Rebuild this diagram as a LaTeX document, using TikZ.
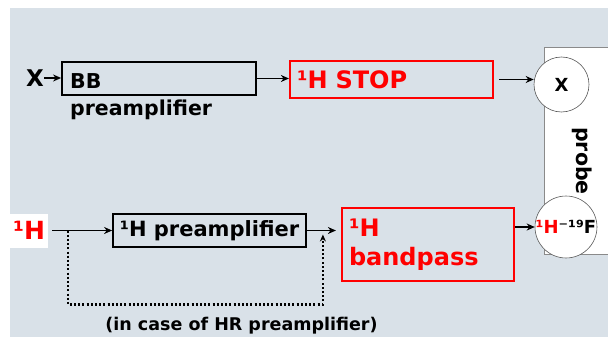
\documentclass[tikz,border=0pt]{standalone}
\usepackage{fontspec}
\setmainfont{DejaVu Sans}
\usepackage{xcolor}
\definecolor{slidebg}{HTML}{D9E1E8}
\definecolor{signalred}{HTML}{FF0000}
\definecolor{probegray}{HTML}{8A8A8A}
\usetikzlibrary{arrows.meta, positioning, calc}

\begin{document}
\begin{tikzpicture}[
	x=1pt, y=-1pt,
	box/.style={
		rectangle,
		draw=black,
		line width=1.8pt,
		inner sep=0pt,
		font=\fontsize{21}{25}\selectfont\bfseries,
	},
	redbox/.style={
		rectangle,
		draw=signalred,
		line width=2.2pt,
		text=signalred,
		align=left,
		inner xsep=7pt,
		font=\fontsize{24}{29}\selectfont\bfseries,
	},
	ring/.style={
		circle,
		draw=black!65,
		line width=0.6pt,
		fill=white,
		minimum size=55pt,
		inner sep=0pt,
		font=\fontsize{18}{20}\selectfont\bfseries,
	},
	probebox/.style={rectangle, draw=probegray, line width=1pt, fill=white, anchor=north west},
	lbl/.style={inner sep=0pt, font=\fontsize{20.5}{27}\selectfont\bfseries},
	arrow/.style={-{Stealth[length=8pt, width=7pt]}, line width=1.9pt},
	dotarrow/.style={-{Stealth[length=7pt, width=6pt]}, line width=2.2pt, dash pattern=on 2pt off 2.2pt},
	]
	\fill[slidebg] (10,8) rectangle (608,337);
	\useasboundingbox (0,0) rectangle (608,337);
	
	% X channel
	\node[lbl, font=\fontsize{23}{26}\selectfont\bfseries] (xin) at (35,78) {X};
	\node[box, minimum width=194pt, minimum height=33pt] (bbpre) at (159,78.5) {};
	\node[lbl, align=left, anchor=north west] (bbtext) at (70,73) {BB\\preamplifier};
	\node[redbox, minimum height=37pt, text width=189pt] (stop) at (391.5,79.5) {¹H STOP};
	
	% probe
	\node[probebox, minimum width=90pt, minimum height=207pt] (probe) at (544,47) {};
	\node[lbl, rotate=-90] (probetext) at (582,161) {probe};
	\node[ring] (xring) at (561.5,84.5) {X};
	\node[ring] (hfring) at (566,227) {\textcolor{signalred}{¹H}⁻¹⁹F};
	
	% 1H channel
	\node[lbl, fill=white, text=signalred, minimum width=38pt, minimum height=34pt, font=\fontsize{25}{28}\selectfont\bfseries] (hin) at (29,230.5) {¹H};
	\node[box, minimum width=193pt, minimum height=33pt] (hpre) at (209.5,230.5) {¹H preamplifier};
	\node[redbox, minimum height=73pt, text width=158pt] (bandpass) at (428,244.5) {¹H\\bandpass};
	\node[lbl, font=\fontsize{17.5}{20}\selectfont\bfseries] (note) at (241.5,326) {(in case of HR preamplifier)};
	
	\coordinate (tap) at ($(hin.east)+(20,0)$);
	\coordinate (join) at ($(hpre.east)+(16,0)$);
	
	\draw[arrow] (xin) -- (bbpre.west |- xin);
	\draw[arrow] (bbpre.east) -- (stop.west |- bbpre.east);
	\draw[arrow, shorten <=5pt] (stop.east) -- (stop.east -| xring.west);
	\draw[arrow, shorten <=4pt] (hin.east) -- (hin.east -| hpre.west);
	\draw[arrow, shorten >=5pt] (hpre.east) -- (bandpass.west |- hpre.east);
	\draw[arrow] (bandpass.east |- hfring.west) -- (hfring.west);
	\draw[dotarrow] (tap) -- ++(0,74) -| ([yshift=-4pt]join);
\end{tikzpicture}
\end{document}
